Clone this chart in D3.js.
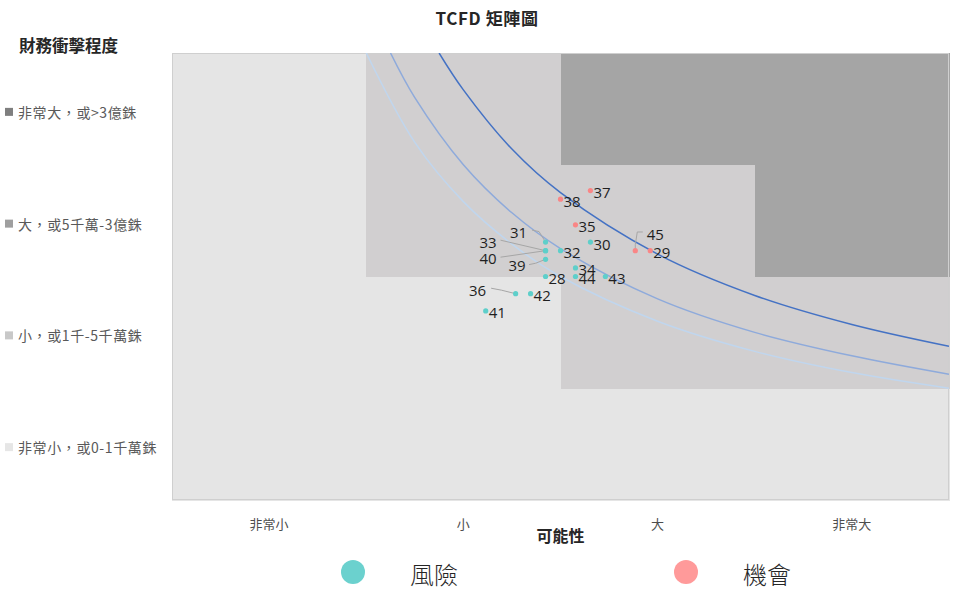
<!DOCTYPE html>
<html lang="zh-Hant-TW">
<head>
<meta charset="utf-8">
<script src="https://cdn.jsdelivr.net/npm/d3@7/dist/d3.min.js"></script>
<style>
  html, body { margin: 0; padding: 0; background: #fff; }
  svg { display: block; }
  text { font-family: "Noto Sans CJK TC", "Noto Sans", sans-serif; }
</style>
</head>
<body>
<svg id="chart" width="955" height="589" lang="zh-Hant-TW"></svg>
<script>
// ---------- DATA ----------
const title = "TCFD 矩陣圖";
const yTitle = "財務衝擊程度";
const xTitle = "可能性";
const xTickLabels = ["非常小", "小", "大", "非常大"];
const yTickLabels = ["非常小，或0-1千萬銖", "小，或1千-5千萬銖", "大，或5千萬-3億銖", "非常大，或>3億銖"]; // bottom -> top

// zone level of each matrix cell, rows bottom -> top, columns left -> right
const cellLevels = [
  [0, 0, 0, 0],
  [0, 0, 1, 1],
  [0, 1, 1, 2],
  [0, 1, 2, 2]
];

// threshold curves
const curveDarkX  = [1.375, 1.5, 1.75, 2, 2.5, 3, 3.5, 4];
const curveDarkY  = [4, 3.67, 3.14, 2.75, 2.2, 1.83, 1.57, 1.375];
const curveMidX   = [1.125, 1.25, 1.5, 1.75, 2, 2.5, 3, 3.5, 4];
const curveMidY   = [4, 3.6, 3, 2.57, 2.25, 1.8, 1.5, 1.29, 1.125];
const curveLightX = [1, 1.25, 1.5, 1.75, 2, 2.5, 3, 3.5, 4];
const curveLightY = [4, 3.2, 2.67, 2.29, 2, 1.6, 1.33, 1.14, 1];

// issues
const pointIds   = [28, 29, 30, 31, 32, 33, 34, 35, 36, 37, 38, 39, 40, 41, 42, 43, 44, 45];
const pointX     = [1.923, 2.462, 2.154, 1.923, 2.0, 1.923, 2.077, 2.077, 1.769, 2.154, 2.0, 1.923, 1.923, 1.615, 1.846, 2.231, 2.077, 2.385];
const pointY     = [2.0, 2.231, 2.308, 2.308, 2.231, 2.231, 2.077, 2.462, 1.846, 2.769, 2.692, 2.154, 2.231, 1.692, 1.846, 2.0, 2.0, 2.231];
const pointType  = ["risk", "opp", "risk", "risk", "risk", "risk", "risk", "opp", "risk", "opp", "opp", "risk", "risk", "risk", "risk", "risk", "risk", "opp"];
const seriesNames = { risk: "風險", opp: "機會" };

// ---------- LAYOUT / STYLE ----------
const plot = { left: 172, right: 949, top: 53, bottom: 500 };
const levelColors = ["#e5e5e5", "#d1cfd0", "#a5a5a5"];
const squareColors = ["#e6e6e6", "#c8c8c8", "#9f9f9f", "#7f7f7f"];
const seriesColors = { risk: "#5ecfca", opp: "#f98686" };
const legendColors = { risk: "#6bd1ce", opp: "#ff9a9a" };
const curveStyles = [
  { xs: curveDarkX, ys: curveDarkY, color: "#4472c4", w: 1.5 },
  { xs: curveMidX, ys: curveMidY, color: "#8eaadb", w: 1.5 },
  { xs: curveLightX, ys: curveLightY, color: "#c0d6ee", w: 1.5 }
];
// label placement: [dx, dy, anchor, leader points relative to dot]
const labelLayout = {
  31: { dx: -18.5, dy: -10.5, anchor: "end", leader: [[-13.5, -12], [-6.5, -10.5], [0, 0]] },
  33: { dx: -49, dy: -8.6, anchor: "end", leader: [[-45, -10.5], [0, 0]] },
  40: { dx: -49, dy: 7, anchor: "end", leader: [[-45, 6.5], [0, 0]] },
  39: { dx: -20, dy: 5.3, anchor: "end", leader: [[-16.5, 5.3], [-10, 4], [0, 0]] },
  36: { dx: -29.5, dy: -4, anchor: "end", leader: [[-24.5, -5.5], [-14, -3.5], [0, 0]] },
  45: { dx: 11.5, dy: -17, anchor: "start", leader: [[7.5, -18.7], [2, -18.7], [0, -6], [0, 0]] }
};

// ---------- DRAW ----------
const svg = d3.select("#chart");
const x = d3.scaleLinear().domain([0, 4]).range([plot.left, plot.right]);
const y = d3.scaleLinear().domain([0, 4]).range([plot.bottom, plot.top]);

// matrix cells
const cells = [];
cellLevels.forEach((row, r) => row.forEach((lvl, c) => cells.push({ r, c, lvl })));
svg.append("g").attr("shape-rendering", "crispEdges")
  .selectAll("rect").data(cells).join("rect")
  .attr("x", d => x(d.c)).attr("y", d => y(d.r + 1))
  .attr("width", d => x(d.c + 1) - x(d.c) + 0.5)
  .attr("height", d => y(d.r) - y(d.r + 1) + 0.5)
  .attr("fill", d => levelColors[d.lvl]);

// plot border
svg.append("rect")
  .attr("x", plot.left + 0.5).attr("y", plot.top + 0.5)
  .attr("width", plot.right - plot.left - 1).attr("height", plot.bottom - plot.top - 1)
  .attr("fill", "none").attr("stroke", "#cfcfcf").attr("stroke-width", 1);

// clip for curves
svg.append("clipPath").attr("id", "plotClip").append("rect")
  .attr("x", plot.left).attr("y", plot.top)
  .attr("width", plot.right - plot.left).attr("height", plot.bottom - plot.top);

const line = d3.line().x(d => x(d[0])).y(d => y(d[1])).curve(d3.curveCatmullRom.alpha(0.5));
const curveG = svg.append("g").attr("clip-path", "url(#plotClip)");
curveStyles.slice().reverse().forEach(cs => {
  curveG.append("path")
    .datum(cs.xs.map((v, i) => [v, cs.ys[i]]))
    .attr("d", line)
    .attr("fill", "none")
    .attr("stroke", cs.color)
    .attr("stroke-width", cs.w);
});

// points data
const pts = pointIds.map((id, i) => ({ id, x: pointX[i], y: pointY[i], type: pointType[i] }));

// leader lines
const leaderLine = d3.line();
svg.append("g").selectAll("path")
  .data(pts.filter(d => labelLayout[d.id]))
  .join("path")
  .attr("d", d => leaderLine(labelLayout[d.id].leader.map(p => [x(d.x) + p[0], y(d.y) + p[1]])))
  .attr("fill", "none").attr("stroke", "#a6a6a6").attr("stroke-width", 1);

// dots
svg.append("g").selectAll("circle").data(pts).join("circle")
  .attr("cx", d => x(d.x)).attr("cy", d => y(d.y))
  .attr("r", 2.6)
  .attr("fill", d => seriesColors[d.type]);

// point labels
svg.append("g").selectAll("text").data(pts).join("text")
  .attr("x", d => x(d.x) + (labelLayout[d.id] ? labelLayout[d.id].dx : 3))
  .attr("y", d => y(d.y) + (labelLayout[d.id] ? labelLayout[d.id].dy : 1.5))
  .attr("text-anchor", d => labelLayout[d.id] ? labelLayout[d.id].anchor : "start")
  .attr("dominant-baseline", "central")
  .style("font-family", "'Open Sans', 'Noto Sans', sans-serif")
  .style("font-size", "15px")
  .attr("fill", "#1f1f1f")
  .text(d => d.id);

// title
svg.append("text").attr("x", 487).attr("y", 17)
  .attr("text-anchor", "middle").attr("dominant-baseline", "central")
  .style("font-size", "17px").style("font-weight", "bold").style("letter-spacing", "0.6px")
  .attr("fill", "#262626")
  .text(title);

// y title
svg.append("text").attr("x", 19).attr("y", 45)
  .attr("dominant-baseline", "central")
  .style("font-size", "16.5px").style("font-weight", "bold").attr("fill", "#262626")
  .text(yTitle);

// y category labels
const yLab = svg.append("g").selectAll("g").data(yTickLabels).join("g")
  .attr("transform", (d, i) => `translate(0,${y(i + 0.5) + 3})`);
yLab.append("rect").attr("x", 5).attr("y", -4).attr("width", 8).attr("height", 8)
  .attr("fill", (d, i) => squareColors[i]);
yLab.append("text").attr("x", 18).attr("y", 0)
  .attr("dominant-baseline", "central")
  .style("font-size", "14px").style("letter-spacing", "0.6px").attr("fill", "#595959")
  .text(d => d);

// x category labels
svg.append("g").selectAll("text").data(xTickLabels).join("text")
  .attr("x", (d, i) => x(i + 0.5)).attr("y", 523)
  .attr("text-anchor", "middle").attr("dominant-baseline", "central")
  .style("font-size", "13px").attr("fill", "#4d4d4d")
  .text(d => d);

// x title
svg.append("text").attr("x", (plot.left + plot.right) / 2).attr("y", 535)
  .attr("text-anchor", "middle").attr("dominant-baseline", "central")
  .style("font-size", "16px").style("font-weight", "bold").attr("fill", "#262626")
  .text(xTitle);

// legend
const legendItems = [
  { key: "risk", cx: 353, tx: 410 },
  { key: "opp", cx: 686, tx: 743 }
];
const lg = svg.append("g").selectAll("g").data(legendItems).join("g");
lg.append("circle").attr("cx", d => d.cx).attr("cy", 572).attr("r", 12)
  .attr("fill", d => legendColors[d.key]);
lg.append("text").attr("x", d => d.tx).attr("y", 573)
  .attr("dominant-baseline", "central")
  .style("font-size", "24px").style("font-weight", "300").attr("fill", "#262626")
  .text(d => seriesNames[d.key]);
</script>
</body>
</html>
